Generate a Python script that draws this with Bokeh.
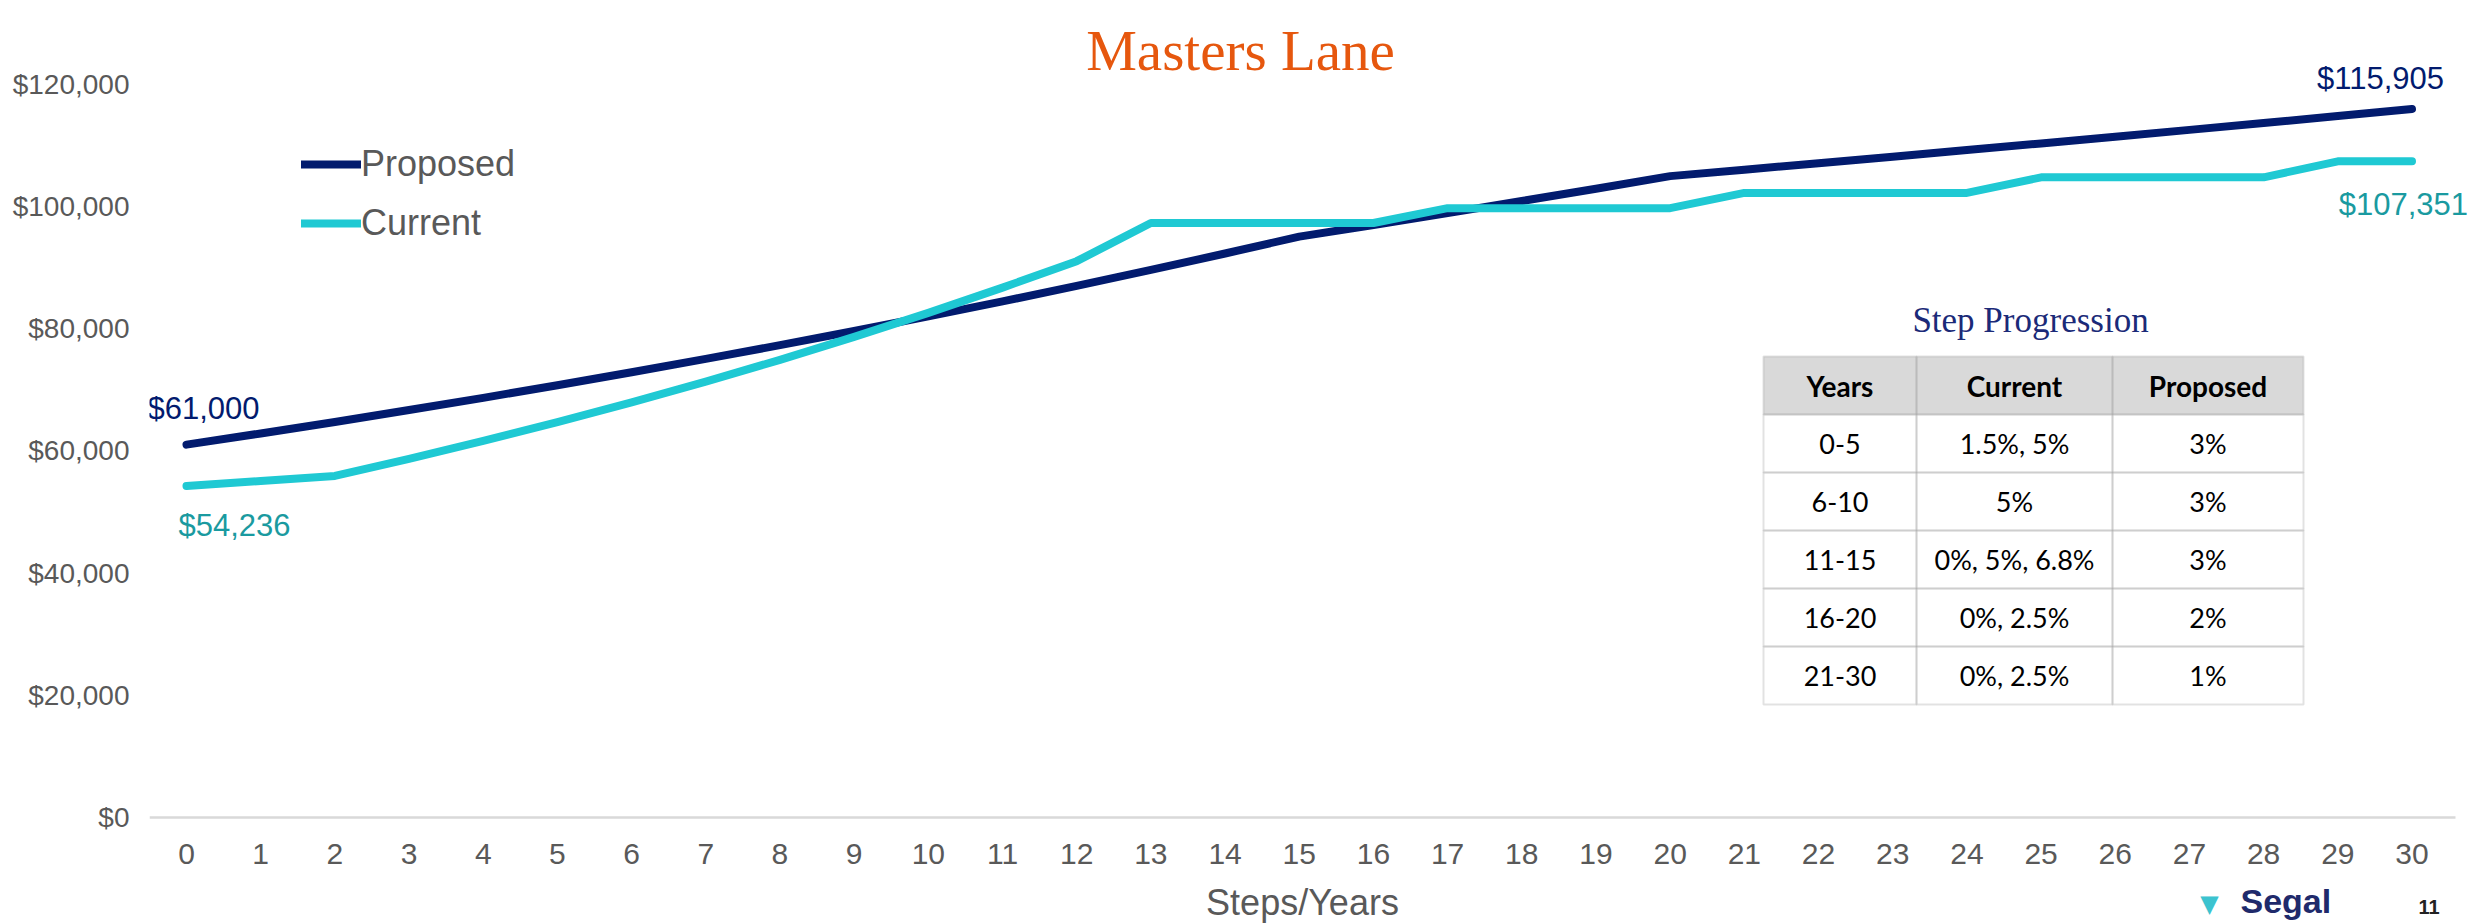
from bokeh.plotting import figure
from bokeh.models import (Label, Legend, LegendItem, FixedTicker, BoxAnnotation)
from bokeh.embed import file_html
from bokeh.resources import INLINE

# ---------------- data ----------------
steps = list(range(31))
proposed = [61000, 62830, 64715, 66656, 68656, 70716, 72837, 75022, 77273, 79591,
            81979, 84438, 86971, 89580, 92268, 95036, 96937, 98875, 100853, 102870,
            104927, 105977, 107036, 108107, 109188, 110280, 111382, 112496, 113621,
            114757, 115905]
current = [54236, 55050, 55876, 58670, 61603, 64684, 67918, 71314, 74879, 78623,
           82555, 86682, 91016, 97255, 97255, 97255, 97255, 99686, 99686, 99686,
           99686, 102178, 102178, 102178, 102178, 104733, 104733, 104733, 104733,
           107351, 107351]
series_names = ["Proposed", "Current"]
y_ticks = [0, 20000, 40000, 60000, 80000, 100000, 120000]
y_tick_labels = ["$0", "$20,000", "$40,000", "$60,000", "$80,000", "$100,000", "$120,000"]
x_tick_labels = [str(s) for s in steps]
chart_title = "Masters Lane"
x_title = "Steps/Years"
table_title = "Step Progression"
table_header = ["Years", "Current", "Proposed"]
table_years = ["0-5", "6-10", "11-15", "16-20", "21-30"]
table_current = ["1.5%, 5%", "5%", "0%, 5%, 6.8%", "0%, 2.5%", "0%, 2.5%"]
table_proposed = ["3%", "3%", "3%", "2%", "1%"]
brand = "Segal"
page_no = "11"

# ---------------- layout / style ----------------
W, H = 2471, 923
FRAME_L, FRAME_R = 149, 2471
AXIS_LINE_END_PX = 2455
ZERO_PX = 817.0          # pixel row of $0
Y120_PX = 83.5           # pixel row of $120,000
X0_PX, X30_PX = 186.0, 2411.5
PX_PER_X = (X30_PX - X0_PX) / 30.0
PX_PER_Y = (ZERO_PX - Y120_PX) / 120000.0
X_START = -(X0_PX - FRAME_L) / PX_PER_X
X_END = X_START + (FRAME_R - FRAME_L) / PX_PER_X
Y_START = -(H - ZERO_PX) / PX_PER_Y
Y_END = ZERO_PX / PX_PER_Y


def dx(px):
    return (px - X0_PX) / PX_PER_X


def dy(py):
    return (ZERO_PX - py) / PX_PER_Y


NAVY = "#021B6E"
CYAN = "#1FC9D3"
TEAL = "#1A9AA0"
GRAY = "#595959"
ORANGE = "#E6570E"
SANS = "Liberation Sans"
SERIF = "Liberation Serif"

p = figure(width=W, height=H, x_range=(X_START, X_END), y_range=(Y_START, Y_END),
           output_backend="svg", toolbar_location=None,
           min_border_left=FRAME_L, min_border_right=W - FRAME_R,
           min_border_top=0, min_border_bottom=0)
if p.title is not None:
    p.title.visible = False
p.outline_line_color = None
p.xgrid.visible = False
p.ygrid.visible = False
p.background_fill_color = "white"
p.border_fill_color = "white"

# axes
xa = p.xaxis[0]
xa.fixed_location = 0
xa.bounds = (X_START, dx(AXIS_LINE_END_PX))
xa.ticker = FixedTicker(ticks=steps)
xa.major_label_overrides = {s: lab for s, lab in zip(steps, x_tick_labels)}
xa.axis_line_color = "#D9D9D9"
xa.axis_line_width = 2.5
xa.major_tick_line_color = None
xa.minor_tick_line_color = None
xa.major_tick_out = 0
xa.major_tick_in = 0
xa.major_label_standoff = 26
xa.major_label_text_font = SANS
xa.major_label_text_font_size = "30px"
xa.major_label_text_color = GRAY
xa.axis_label = x_title
xa.axis_label_text_font = SANS
xa.axis_label_text_font_size = "36px"
xa.axis_label_text_font_style = "normal"
xa.axis_label_text_color = GRAY
xa.axis_label_standoff = 15

ya = p.yaxis[0]
ya.ticker = FixedTicker(ticks=y_ticks)
ya.major_label_overrides = {t: lab for t, lab in zip(y_ticks, y_tick_labels)}
ya.axis_line_color = None
ya.major_tick_line_color = None
ya.minor_tick_line_color = None
ya.major_tick_out = 0
ya.major_tick_in = 0
ya.major_label_standoff = 20
ya.major_label_text_font = SANS
ya.major_label_text_font_size = "28px"
ya.major_label_text_color = GRAY

# lines
r_prop = p.line(steps, proposed, line_color=NAVY, line_width=8,
                line_cap="round", line_join="round")
r_curr = p.line(steps, current, line_color=CYAN, line_width=8,
                line_cap="round", line_join="round")

legend = Legend(items=[LegendItem(label=series_names[0], renderers=[r_prop]),
                       LegendItem(label=series_names[1], renderers=[r_curr])],
                location=(152, 573 + (H - ZERO_PX)), orientation="vertical",
                label_text_font=SANS, label_text_font_size="36px",
                label_text_color=GRAY, glyph_width=60, glyph_height=20,
                label_standoff=0, spacing=17, padding=0, margin=0,
                border_line_color=None, background_fill_alpha=0)
p.add_layout(legend)


# data labels
def money(v):
    return "${:,}".format(v)


p.add_layout(Label(x=steps[0], y=proposed[0], text=money(proposed[0]),
                   x_offset=-39, y_offset=36, text_align="left", text_baseline="middle",
                   text_font=SANS, text_font_size="31px", text_color=NAVY))
p.add_layout(Label(x=steps[0], y=current[0], text=money(current[0]),
                   x_offset=-8, y_offset=-40, text_align="left", text_baseline="middle",
                   text_font=SANS, text_font_size="31px", text_color=TEAL))
p.add_layout(Label(x=steps[-1], y=proposed[-1], text=money(proposed[-1]),
                   x_offset=32, y_offset=31, text_align="right", text_baseline="middle",
                   text_font=SANS, text_font_size="31px", text_color=NAVY))
p.add_layout(Label(x=steps[-1], y=current[-1], text=money(current[-1]),
                   x_offset=56, y_offset=-43, text_align="right", text_baseline="middle",
                   text_font=SANS, text_font_size="31px", text_color=TEAL))

# chart title
p.add_layout(Label(x=dx(1240), y=dy(50), text=chart_title, text_align="center",
                   text_baseline="alphabetic", text_font=SERIF, text_font_size="57px",
                   text_color=ORANGE))

# table
TX = [1763, 1916, 2112, 2303]
TY = [356, 414, 472, 530, 588, 646, 704]
rows = [table_header] + [[a, b, c] for a, b, c in zip(table_years, table_current, table_proposed)]
p.add_layout(BoxAnnotation(left=dx(TX[0]), right=dx(TX[-1]), top=dy(TY[0]), bottom=dy(TY[1]),
                           fill_color="#D9D9D9", fill_alpha=1, line_color=None))
for ri, row in enumerate(rows):
    for ci, txt in enumerate(row):
        p.add_layout(BoxAnnotation(left=dx(TX[ci]), right=dx(TX[ci + 1]),
                                   top=dy(TY[ri]), bottom=dy(TY[ri + 1]),
                                   fill_color=None, fill_alpha=0,
                                   line_color="#9E9E9E", line_width=2))
        p.add_layout(Label(x=dx((TX[ci] + TX[ci + 1]) / 2), y=dy((TY[ri] + TY[ri + 1]) / 2),
                           text=txt, text_align="center", text_baseline="middle",
                           text_font="Lato", text_font_size="28px" if ri == 0 else "27px",
                           text_font_style="bold" if ri == 0 else "normal",
                           text_color="black"))
p.add_layout(Label(x=dx(2030), y=dy(320), text=table_title, text_align="center",
                   text_baseline="middle", text_font=SERIF, text_font_size="35px",
                   text_color="#1B2A78"))

# brand footer (kept fully inside the page)
p.add_layout(Label(x=dx(2209), y=dy(917), text="\u25BC", text_align="center",
                   text_baseline="bottom", text_font="DejaVu Sans", text_font_size="24px",
                   text_color="#3CC3CF"))
p.add_layout(Label(x=dx(2240), y=dy(919), text=brand, text_align="left",
                   text_baseline="bottom", text_font=SANS, text_font_size="34px",
                   text_font_style="bold", text_color="#1F2A6B"))
p.add_layout(Label(x=dx(2418), y=dy(913), text=page_no, text_align="left",
                   text_baseline="bottom", text_font=SANS, text_font_size="20px",
                   text_font_style="bold", text_color="#222222"))

open("out.html", "w").write(file_html(p, INLINE))
